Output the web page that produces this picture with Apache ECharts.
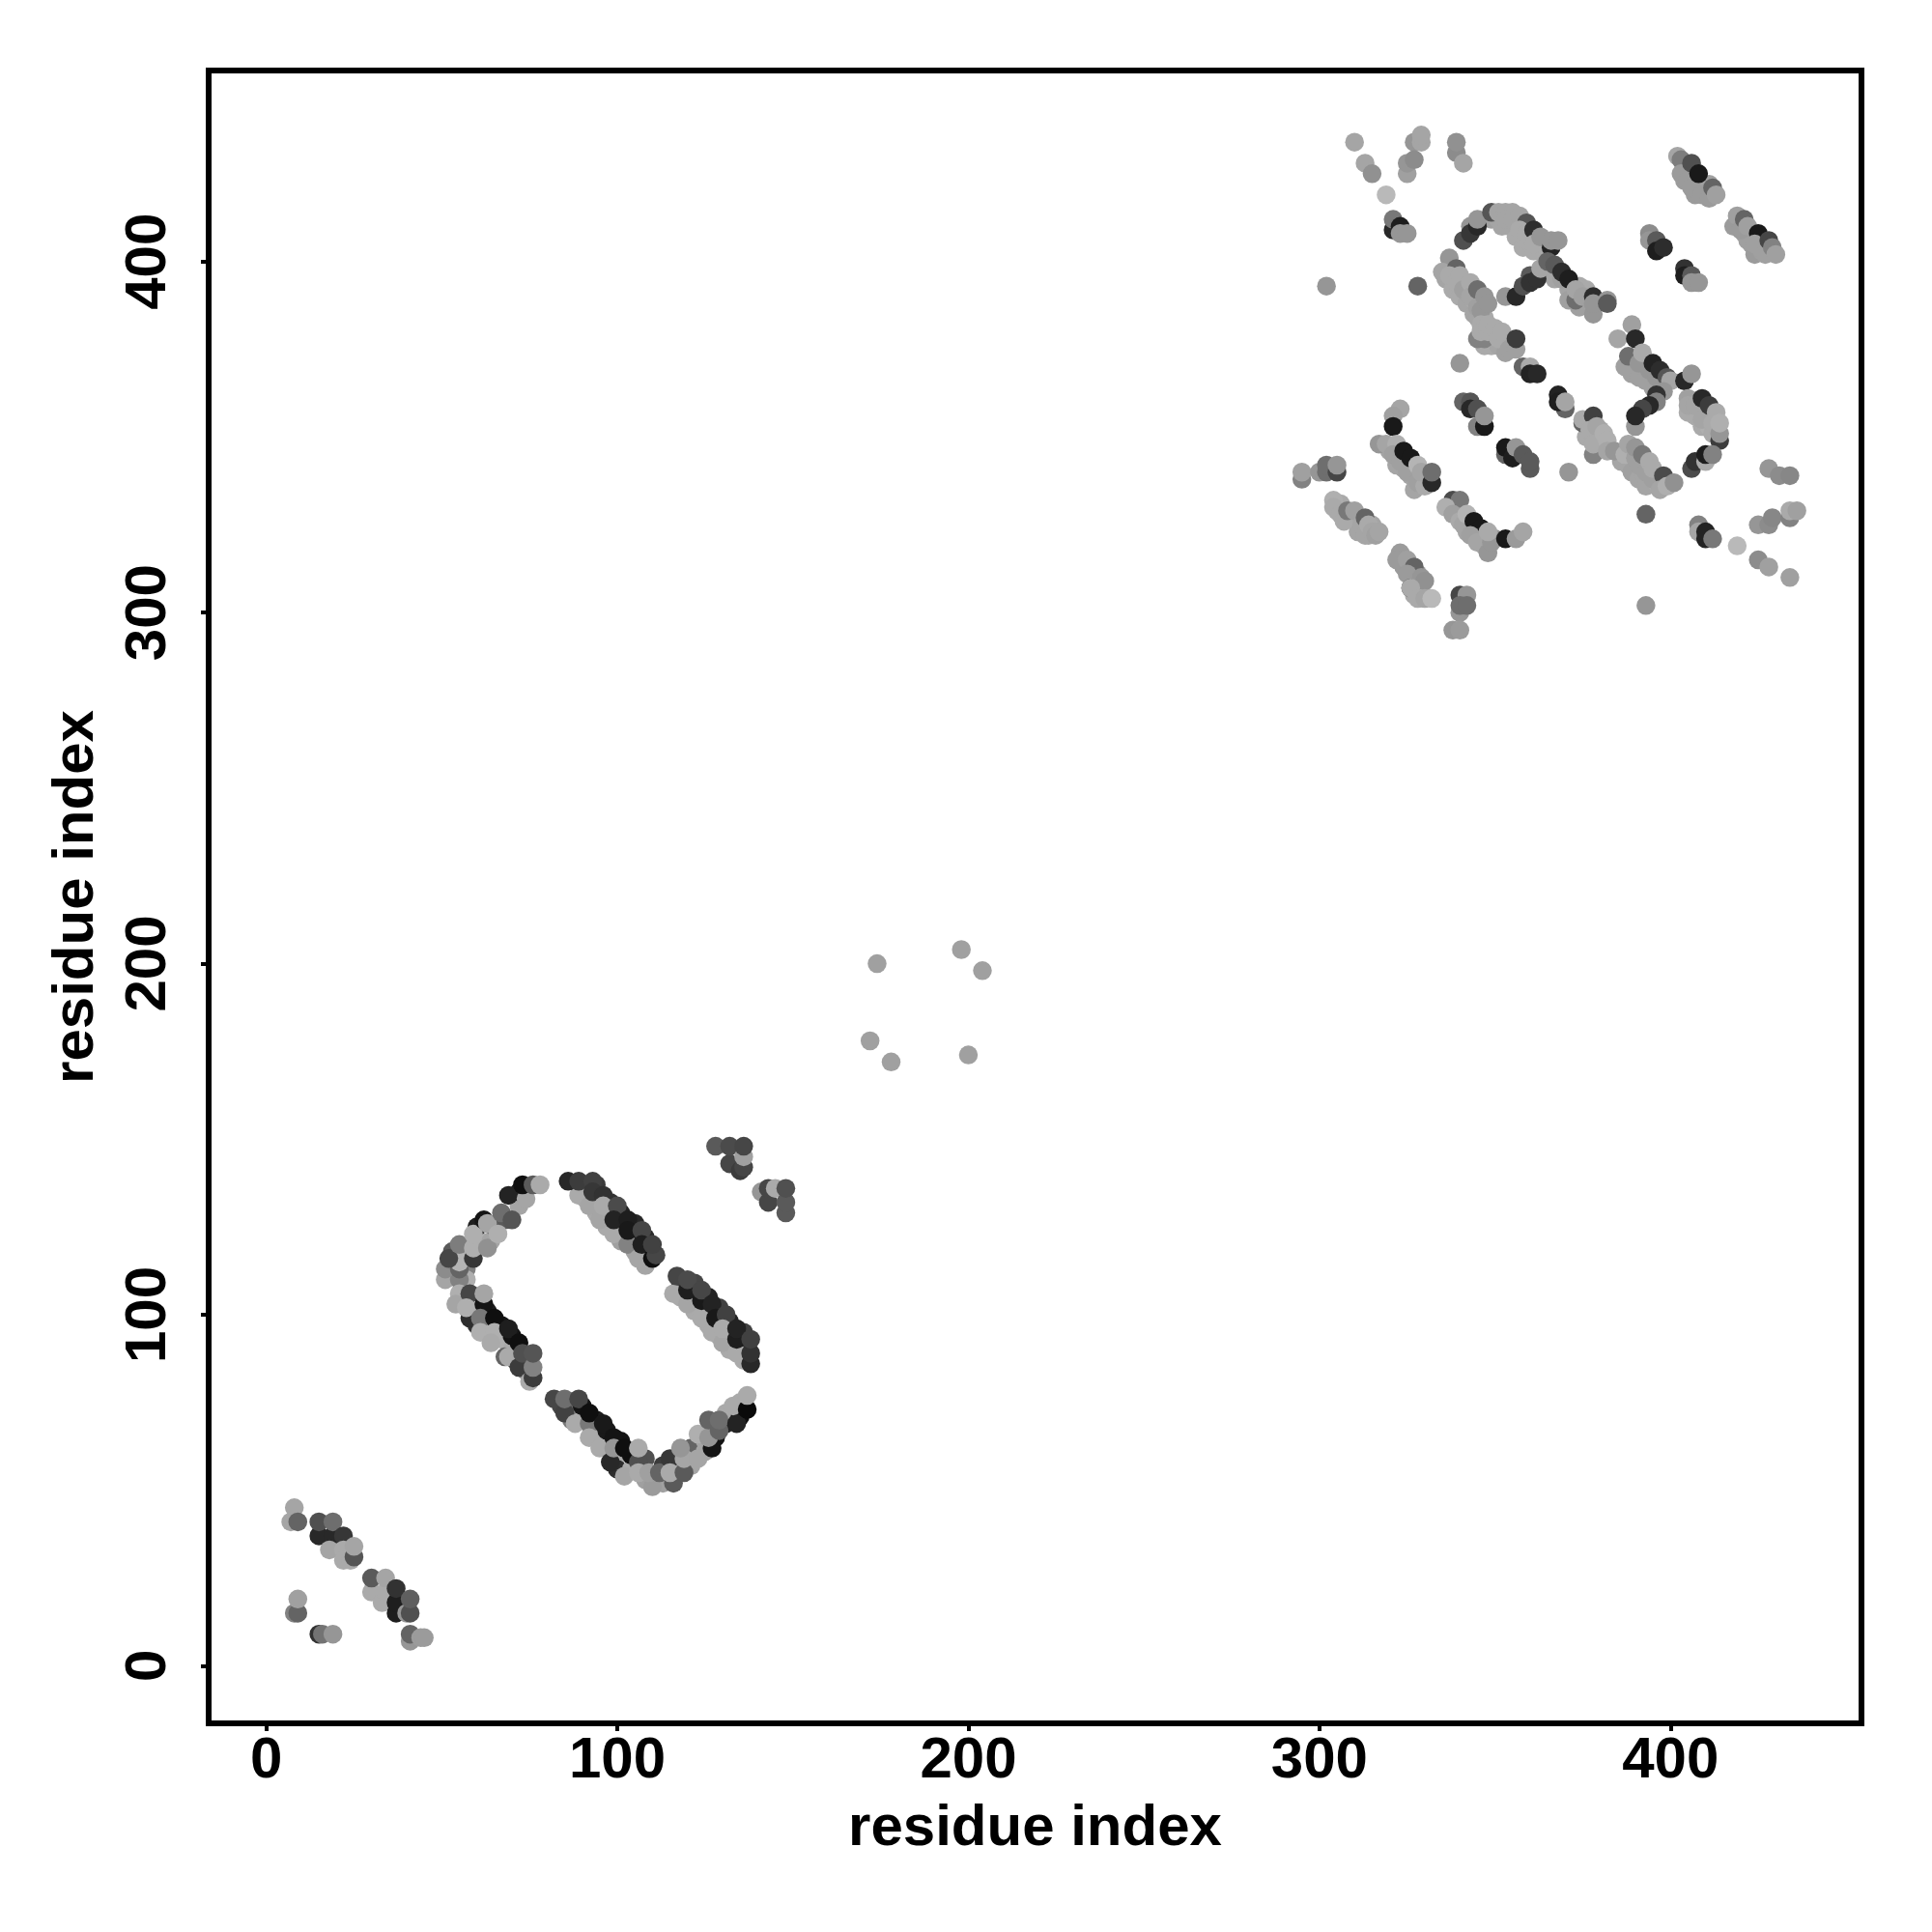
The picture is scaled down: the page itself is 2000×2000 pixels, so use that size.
<!DOCTYPE html>
<html><head><meta charset="utf-8">
<style>html,body{margin:0;padding:0;background:#fff}#c{width:2000px;height:2000px}</style>
<script src="https://cdn.jsdelivr.net/npm/echarts@6/dist/echarts.min.js"></script>
</head><body><div id="c"></div>
<script>
const tickValues = [0, 100, 200, 300, 400];
const axisTitle = "residue index";
// each contact: [residue i, residue j, grey level]
const lowerCluster = [
[7,41,165],[8,45,165],[9,41,100],[15,37,40],[19,37,40],[15,41,80],[19,41,110],[22,37,55],[18,33,165],[22,33,170],[22,30,170],[24,30,170],[25,31,85],[25,34,165],
[30,21,170],[30,25,90],[33,18,170],[34,21,170],[34,25,165],[37,15,30],[37,18,30],[37,22,50],[40,15,150],[41,15,80],[41,19,95],
[8,15,130],[9,15,100],[9,19,160],[15,9,50],[16,9,115],[19,9,150],[41,7,150],[41,9,100],[44,8,155],[45,8,155]
];
const ringUnderlay = [
[57,118,175],[61,121,175],[64,121,165],[65,125,110],[68,127,90],[72,131,165],[72,135,35],[60,125,30],[53,118,90],[53,111,130],[57,113,130],[57,110,175],
[56,104,175],[60,101,175],[60,97,50],[63,97,170],[63,101,30],[67,93,175],[67,97,20],[70,90,170],[70,94,20],[71,87,60],[74,87,60],[74,84,130],
[84,74,70],[87,74,100],[87,70,120],[90,70,170],[90,74,20],[94,70,30],[94,67,170],[97,64,170],[97,67,25],[100,60,170],[100,56,45],[101,64,20],[104,60,120],[104,56,170],[104,60,15],[108,53,160],[108,59,80],[113,52,160],[113,57,60],[117,57,165],[121,57,165],[121,62,100],[125,64,165],[125,61,165],[128,65,20],[128,69,100],[131,69,35],[131,72,170],[135,71,15],[135,75,170],
[91,133,170],[94,137,60],[94,133,55],[98,132,50],[94,129,170],[98,129,170],[97,125,170],[101,125,170],[101,129,35],[105,126,40],[105,122,25],[101,121,160],[105,118,165],[108,122,40],[108,118,25],[108,114,165],
[118,105,170],[118,109,70],[122,105,30],[122,101,170],[122,109,70],[126,105,35],[126,101,25],[126,97,170],[129,102,65],[129,98,25],[129,94,165],[132,98,35],[132,94,30],[132,90,170],[136,91,50],[136,95,65],[136,87,170]
];
const ringLeft = [
[51,110,165],[55,110,130],[51,113,140],[55,113,100],[55,115,180],[52,116,70],[59,116,55],[55,120,125],[59,119,175],[63,119,145],[59,123,175],[62,127,20],[63,126,165],[66,123,175],[67,129,110],[70,127,85],[69,134,35],[74,133,165],[73,137,15],[76,137,90],[78,137,170],
[55,106,175],[54,103,165],[58,99,45],[58,106,70],[57,102,175],[62,103,20],[62,106,165],[61,99,120],[65,99,15],[61,95,175],[65,95,175],[64,92,170],[69,96,30],[68,88,100],[69,88,170],[72,92,15],[72,85,60],[73,89,80],[75,81,170],[76,82,60],[76,85,130],[76,89,85]
];
const ringBottom = [
[82,76,70],[85,72,65],[85,76,110],[88,69,170],[89,76,70],[92,69,120],[92,72,15],[92,65,170],[96,69,25],[95,62,170],[98,58,40],[99,65,20],[99,62,150],[102,54,165],[102,62,15],[106,58,80],[106,55,170],[106,62,170],[110,51,155],[109,55,160],[112,55,100],
[116,52,90],[115,59,55],[115,55,170],[119,55,90],[119,59,165],[118,62,150],[123,59,165],[123,66,175],[127,62,20],[126,65,150],[126,70,100],[129,67,100],[129,70,110],[134,69,35],[133,74,170],[137,73,10],[137,77,170]
];
const ringRight = [
[89,134,170],[86,138,40],[89,138,60],[93,138,65],[92,131,165],[93,135,55],[96,134,50],[95,127,165],[96,131,170],[100,131,75],[99,123,170],[99,127,35],[103,127,30],[103,120,130],[103,124,25],[107,124,70],[106,116,165],[107,120,30],[110,116,15],[111,117,70],[110,120,65],
[116,106,170],[117,111,70],[120,103,165],[120,107,30],[120,110,75],[124,99,170],[124,104,25],[124,107,70],[127,95,170],[127,103,35],[128,99,25],[131,100,65],[130,92,165],[130,96,170],[134,89,170],[134,93,30],[134,96,35],[138,86,40],[138,89,50],[138,93,65]
];
const sideCluster = [
[128,148,90],[132,143,70],[132,148,75],[135,141,60],[136,142,70],[136,145,160],[136,148,70],
[141,135,150],[143,132,70],[143,136,70],[145,136,170],[148,129,90],[148,132,90],[148,136,80]
];
const middleScatter = [[174,200,160],[198,204,160],[204,198,160],[172,178,160],[178,172,160],[200,174,160]];
const upperUnderlay = [
[324,341,165],[326,339,165],[327,335,165],[322,342,165],[320,346,165],[329,338,160],[325,344,170],[327,341,175],
[309,327,165],[311,326,165],[305,329,170],[307,329,165],[311,323,165],[314,322,165],[315,325,165],[306,331,170],
[339,330,170],[341,328,170],[342,323,165],[344,322,160],[346,321,165],[347,319,165],[347,322,165],[350,321,150],
[323,315,160],[324,313,155],[326,313,160],[328,309,155],[327,309,155],[328,311,150],[329,306,170],[327,305,170],
[349,412,160],[351,412,165],[354,410,170],[356,410,170],[357,411,170],[356,407,170],[358,404,170],[360,406,170],[363,403,170],[352,410,165],
[366,397,165],[367,395,165],[371,392,165],[371,389,160],[374,393,170],[376,388,160],[374,387,160],[376,392,170],
[336,395,165],[338,392,170],[340,390,170],[342,388,165],[344,385,165],[342,391,165],[344,389,170],[345,384,165],[347,384,170],
[347,376,170],[349,376,170],[351,376,165],[353,377,165],[349,379,170],[353,374,160],
[387,370,160],[389,368,160],[391,367,160],[393,366,160],[395,364,160],[393,371,170],[396,369,165],[398,366,150],
[405,357,170],[407,356,170],[409,353,170],[411,353,175],[413,351,175],[410,356,170],[412,351,170],
[376,350,170],[378,350,170],[380,348,170],[380,352,170],[379,346,170],
[386,343,165],[388,342,165],[389,340,160],[391,338,165],[392,340,165],[394,337,160],[393,336,165],[396,337,170],
[404,427,160],[405,425,160],[407,423,160],[408,421,160],[410,420,160],[411,422,160],[404,423,155],[407,419,155],
[419,411,160],[421,408,160],[423,407,160],[423,405,160],[425,404,160],[424,402,155],[422,406,160]
];
const upperFar = [
[310,434,165],[313,428,165],[315,425,145],[319,419,185],[327,434,150],[329,434,165],[329,436,165],[325,425,160],[325,428,150],[327,429,140],[339,431,140],[339,434,145],[341,428,165],
[321,409,40],[321,412,120],[323,410,30],[323,408,150],[325,408,150],[302,393,150],[328,393,100],[340,371,150],
[402,430,165],[403,429,125],[403,425,155],[405,423,155],[406,421,155],[406,428,80],[408,425,25],[409,419,155],[411,418,155],[412,421,100],[413,419,160],
[418,410,155],[419,413,160],[420,409,155],[421,412,100],[422,410,160],[425,408,25],[424,405,160],[426,403,160],[427,402,160],[428,406,70],[429,404,130],[430,402,160],
[394,408,140],[394,406,150],[396,406,90],[396,403,30],[398,404,45],[404,398,50],[404,396,30],[406,396,90],[406,394,150],[408,394,150]
];
const upperLoop = [
[343,410,150],[341,406,80],[343,408,55],[345,410,40],[345,412,150],[349,414,85],[351,414,165],[353,414,165],[355,414,165],[353,412,165],[355,412,165],[357,413,165],[359,411,85],[357,409,170],[359,406,170],[359,408,170],[361,409,45],[361,403,170],[361,405,170],[363,407,150],[366,404,35],[366,406,150],[368,406,150],
[353,390,150],[356,390,40],[358,393,80],[360,396,90],[360,394,50],[362,395,50],
[363,398,165],[365,400,100],[367,399,90],[369,395,160],[369,397,45],[371,395,30],[373,389,110],[373,392,165],[375,390,160],[378,390,45],[378,385,150],[378,388,150],[382,389,150],[382,388,90],
[385,378,165],[388,373,110],[391,371,150],[394,369,150],[396,367,150],[389,382,160],[390,378,40],[392,374,170],[395,371,35],[397,369,45],[399,367,85],[400,366,165],[404,366,40],[406,368,150],
[337,401,150],[335,397,165],[339,398,100],[337,396,170],[339,394,170],[340,396,170],[341,392,160],[343,394,170],[343,390,165],[345,392,110],[345,387,160],[346,386,150],[347,390,150],[348,388,150],
[345,378,130],[347,378,130],[346,382,170],[346,380,170],[348,380,170],[348,382,170],[350,381,170],[351,378,170],[352,380,170],[354,375,160],[356,375,160],[356,378,60],
[358,370,100],[360,370,170],[360,368,35],[362,368,40]
];
const upperBands = [
[368,362,35],[370,358,100],[368,360,30],[370,360,165],
[341,360,100],[343,360,85],[343,358,40],[345,358,80],[345,353,130],[347,353,25],[347,356,150],
[353,345,100],[353,347,25],[355,344,30],[356,347,150],[358,345,90],[360,341,90],[360,343,90],[371,340,150],
[323,358,165],[321,356,160],[321,353,25],[317,348,150],[319,348,165],[322,348,175],[321,345,160],[323,343,160],[324,346,25],[325,340,160],[326,344,25],[328,342,180],[328,337,160],[330,336,170],[329,340,165],[332,337,40],[332,340,110],
[295,338,130],[295,340,160],[300,340,150],[302,340,110],[302,342,110],[305,340,70],[305,342,150],
[304,332,175],[304,330,170],[306,328,170],[307,326,170],[308,329,120],[310,329,160],[312,325,165],[313,322,165],[313,327,100],[314,325,170],[315,323,165],[316,322,160],[317,323,165],
[338,332,75],[340,332,120],[336,330,175],[338,328,160],[340,326,170],[341,325,165],[342,328,180],[344,326,25],[346,324,25],[343,322,160],[345,320,165],[348,317,150],[349,320,150],[348,323,170],[353,321,25],[356,321,155],[358,323,165],
[323,317,155],[322,315,155],[325,315,160],[327,313,100],[325,311,155],[326,307,60],[329,310,150],[330,309,145],[326,307,170],[328,304,170],[330,304,165],[332,304,185],
[340,305,70],[342,305,150],[340,300,150],[340,302,110],[342,302,110],[338,295,150],[340,295,155]
];
const upperRight = [
[398,363,150],[396,362,50],[396,360,130],[394,359,40],[392,358,70],[390,353,150],[390,356,40],
[405,361,160],[405,359,165],[407,359,165],[409,361,40],[409,355,165],[411,359,60],[412,354,170],[413,357,170],[414,349,60],[414,351,150],[414,354,175],
[406,341,75],[407,343,50],[410,343,170],[410,345,30],[412,345,130],
[375,354,100],[375,355,170],[378,356,65],[377,352,170],[379,353,165],[378,345,130],[378,348,170],[381,351,175],[382,349,175],[382,346,165],[384,346,150],
[387,345,175],[388,348,165],[390,344,160],[390,347,150],[391,342,160],[392,345,120],[393,340,160],[394,343,170],[395,338,160],[395,341,170],[398,339,75],[397,335,165],[399,336,175],[401,337,145],
[393,328,100],[393,302,150],[408,325,130],[408,323,165],[410,321,35],[410,323,35],[412,321,120],
[419,319,185],[425,315,140],[428,313,160],[434,310,160],[425,325,150],[428,325,140],[429,327,135],[434,327,130],[434,329,170],[436,329,160],[428,341,150],[431,339,140],[434,339,135]
];
const contacts = [].concat(lowerCluster, ringUnderlay, ringLeft, ringBottom, ringRight, sideCluster, middleScatter, upperUnderlay, upperFar, upperLoop, upperBands, upperRight);

const chart = echarts.init(document.getElementById('c'), null, {renderer:'canvas', width:2000, height:2000});
const fontFamily = '"Liberation Sans", Arial, sans-serif';
const axisBase = {
  type:'value', min:-16.4, max:454.4,
  name:axisTitle, nameLocation:'middle',
  nameTextStyle:{fontFamily, fontWeight:'bold', fontSize:60, color:'#000'},
  splitLine:{show:false},
  axisLine:{show:true, onZero:false, lineStyle:{color:'#000', width:6}},
  axisTick:{show:true, length:8, lineStyle:{color:'#000', width:4}, customValues:tickValues},
  axisLabel:{show:true, customValues:tickValues, fontFamily, fontWeight:'bold', fontSize:60, color:'#000'}
};
chart.setOption({
  animation:false,
  backgroundColor:'#fff',
  grid:{left:216, top:73, width:1711, height:1711, show:true, borderColor:'#000', borderWidth:6, backgroundColor:'#fff', containLabel:false},
  xAxis:Object.assign({}, axisBase, {nameGap:79, axisLabel:Object.assign({}, axisBase.axisLabel, {margin:9})}),
  yAxis:Object.assign({}, axisBase, {nameGap:107, nameRotate:90, axisLabel:Object.assign({}, axisBase.axisLabel, {margin:32, rotate:90})}),
  series:[{
    type:'scatter', symbol:'circle', symbolSize:19.5, clip:false,
    data:contacts,
    itemStyle:{opacity:1, color:function(p){const g=p.value[2]; return 'rgb('+g+','+g+','+g+')';}},
    emphasis:{disabled:true}
  }]
});
</script></body></html>
